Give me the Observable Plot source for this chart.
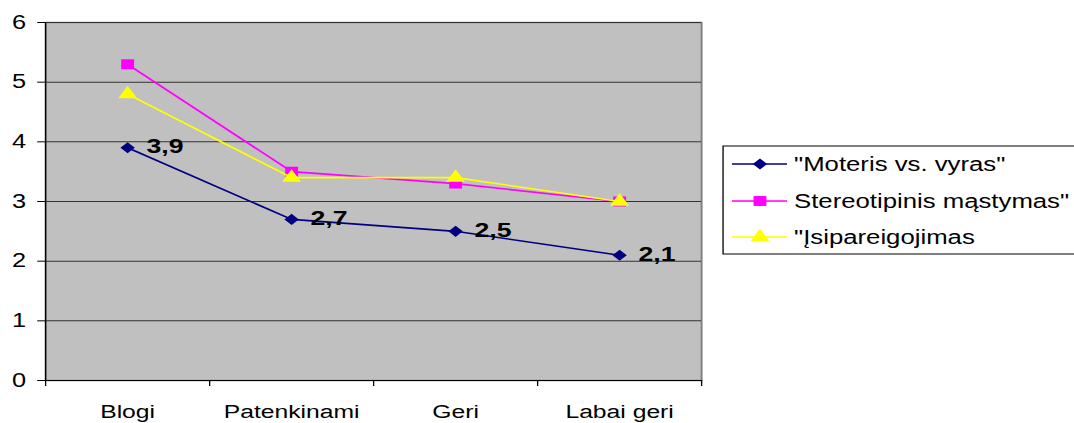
<!DOCTYPE html>
<html><head><meta charset="utf-8">
<script src="https://cdn.jsdelivr.net/npm/d3@7"></script>
<script src="https://cdn.jsdelivr.net/npm/@observablehq/plot@0.6"></script>
<style>body{margin:0;background:#fff;} #chart svg{display:block}</style>
</head><body><div id="chart"></div>
<script>
const categories = ["Blogi", "Patenkinami", "Geri", "Labai geri"];
const seriesNames = ['"Moteris vs. vyras"', 'Stereotipinis mąstymas"', '"Įsipareigojimas'];
const moteris = [3.9, 2.7, 2.5, 2.1];
const stereotipinis = [5.3, 3.5, 3.3, 3.0];
const isipareigojimas = [4.8, 3.4, 3.4, 3.0];
const yTicks = [0, 1, 2, 3, 4, 5, 6];
const colors = ["#000080", "#FF00FF", "#FFFF00"];
const symbols = ["diamond2", "square", "triangle"];
const radii = [5, 5.6, 5.4];

const S = 1.3, W = 1074, H = 423, w = W / S;
const seriesValues = [moteris, stereotipinis, isipareigojimas];
const data = seriesValues.flatMap((vals, s) => vals.map((v, i) => ({s, series: seriesNames[s], x: i + 0.5, y: v})));
const fmt = d3.format(".1f");

const marks = [
  Plot.frame({fill: "#c0c0c0", stroke: "#808080", strokeWidth: 1.5}),
  Plot.gridY({ticks: yTicks, stroke: "#333", strokeOpacity: 1, strokeWidth: 1}),
  Plot.ruleY([0], {stroke: "#000"}),
  Plot.ruleX([0], {stroke: "#000"}),
  Plot.axisY({ticks: yTicks, tickSize: 6, tickPadding: 9, tickFormat: d => d, stroke: "#000", label: null, fontSize: 19.5}),
  Plot.axisX({ticks: [0, 1, 2, 3, 4], tickSize: 6, tickFormat: () => "", stroke: "#000", label: null}),
  Plot.axisX({ticks: categories.map((c, i) => i + 0.5), tickSize: 0, tickPadding: 24, tickFormat: d => categories[Math.floor(d)], label: null})
];
seriesValues.forEach((vals, s) => {
  const d = data.filter(e => e.s === s);
  marks.push(Plot.line(d, {x: "x", y: "y", stroke: colors[s], strokeWidth: 1.6}));
  marks.push(Plot.dot(d, {x: "x", y: "y", symbol: () => symbols[s], fill: colors[s], r: radii[s], stroke: "none"}));
});
marks.push(Plot.text(data.filter(e => e.s === 0), {x: "x", y: "y", text: d => fmt(d.y).replace(".", ","), dx: 14.5, dy: -1, textAnchor: "start", fontWeight: "bold", fontSize: 20.5, fill: "#000"}));

const svg = Plot.plot({
  width: w, height: H,
  marginLeft: 34.6, marginRight: w - 539.2, marginTop: 22, marginBottom: 43,
  x: {domain: [0, 4], label: null},
  y: {domain: [0, 6], label: null},
  symbol: {type: "identity"},
  style: {fontSize: "19px", fontFamily: "'Liberation Sans', Arial, sans-serif", background: "white", color: "#000"},
  marks
});

// legend
const g = d3.select(svg).append("g").attr("font-family", "'Liberation Sans', Arial, sans-serif").attr("font-size", 19.8).attr("text-anchor", "start");
g.append("rect").attr("x", 556.2).attr("y", 146).attr("width", 300).attr("height", 108)
  .attr("fill", "white").attr("stroke", "#000").attr("stroke-width", 1);
const d3sym = [d3.symbolDiamond2, d3.symbolSquare, d3.symbolTriangle];
const rowY = [164, 201, 237];
seriesNames.forEach((name, s) => {
  const y = rowY[s];
  g.append("line").attr("x1", 563).attr("x2", 605.4).attr("y1", y).attr("y2", y).attr("stroke", colors[s]).attr("stroke-width", 1.6);
  g.append("path").attr("transform", `translate(584.6,${y})`).attr("d", d3.symbol(d3sym[s], Math.PI * radii[s] * radii[s])()).attr("fill", colors[s]);
  g.append("text").attr("x", 610.8).attr("y", y).attr("dy", "0.35em").attr("fill", "#000").text(name);
});

svg.setAttribute("width", W);
svg.setAttribute("height", H);
svg.setAttribute("viewBox", `0 0 ${w} ${H}`);
svg.setAttribute("preserveAspectRatio", "none");
svg.style.width = W + "px";
svg.style.height = H + "px";
svg.style.maxWidth = "none";
document.getElementById("chart").appendChild(svg);
</script>
</body></html>
